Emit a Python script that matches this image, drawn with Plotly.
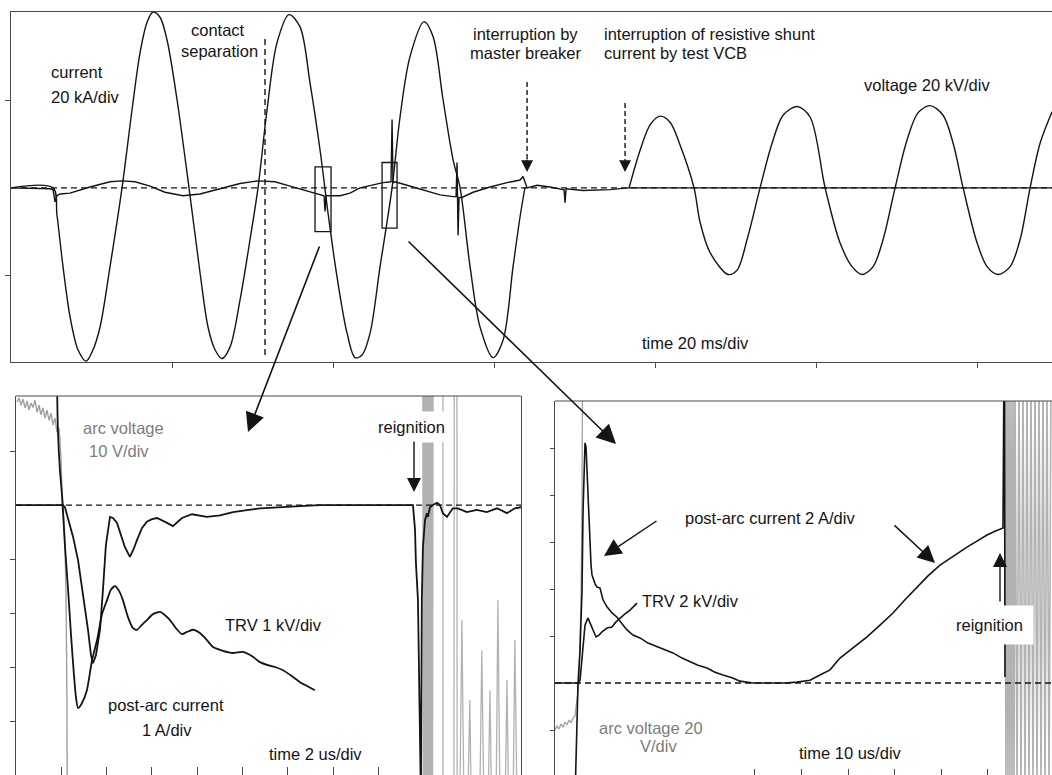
import plotly.graph_objects as go

W, H = 1052, 775
FONT = "Liberation Sans, Arial, sans-serif"
INK = "#141414"
GREY_TEXT = "#7c7c7c"
GREY_TRACE = "rgb(160,160,160)"
GREY_BAND = "rgb(178,178,178)"

# ---------------- upper oscillogram (time in ms, amplitude in divisions) ----------------
t_current_ms = [0, 5.22, 5.71, 6.46, 7.33, 8.32, 9.32, 10.19, 11.06, 12.30,
                13.79, 15.03, 16.02, 16.89, 17.64, 18.51, 19.38, 20.62, 22.11, 23.48,
                24.47, 25.34, 26.21, 27.20, 28.45, 29.69, 30.68, 31.80, 33.04, 34.53,
                35.90, 37.14, 38.39, 39.38, 40.50, 41.74, 42.73, 43.60, 44.60, 45.84,
                47.33, 48.32, 49.56, 51.30, 52.42, 53.66, 54.91, 55.78, 57.02, 58.26,
                59.87, 61.12, 62.36, 63.23, 63.85]
current_div = [0, 0, -0.31, -0.90, -1.47, -1.85, -1.98, -1.85, -1.59, -0.90,
               0, 0.89, 1.54, 1.89, 2.01, 1.95, 1.69, 1.01, 0, -0.97,
               -1.59, -1.85, -1.95, -1.82, -1.28, -0.59, 0, 0.89, 1.66, 1.98,
               1.84, 1.20, 0.43, -0.29, -1.02, -1.66, -1.94, -1.91, -1.66, -0.90,
               0, 0.81, 1.50, 1.90, 1.73, 1.01, 0.32, 0, -0.90, -1.59,
               -1.94, -1.74, -0.90, -0.33, 0.01]

t_aux_ms = [0, 4.84, 5.22, 5.47, 5.71, 6.09, 7.33, 9.81, 12.30, 13.79,
            15.40, 17.27, 19.13, 21.37, 23.48, 25.96, 28.45, 30.68, 32.79, 34.66,
            36.52, 38.39, 38.88, 39.01, 39.13, 40.87, 42.11, 43.35, 44.60, 46.21,
            47.20, 47.33, 47.45, 47.70, 49.19, 51.18, 53.29, 54.91, 55.28, 55.40,
            55.53, 55.65, 56.02, 57.39, 59.50, 61.61, 63.23, 63.60, 64.10, 65.34,
            66.96, 68.57, 68.69, 68.82, 68.94, 71.05, 74.41, 76.64, 129.3]
aux_div = [0, -0.01, -0.02, -0.16, -0.09, -0.07, -0.06, 0.01, 0.07, 0.08,
           0.07, 0.02, -0.05, -0.09, -0.07, -0.01, 0.05, 0.08, 0.07, 0.02,
           -0.03, -0.08, -0.09, -0.27, -0.09, -0.09, -0.06, 0, 0.03, 0.06,
           0.07, 0.78, 0.06, 0.07, 0.03, -0.02, -0.08, -0.10, -0.10, 0.29,
           -0.54, -0.11, -0.11, -0.05, 0.01, 0.06, 0.09, 0.13, 0, 0.03,
           0.01, -0.02, -0.02, -0.17, -0.01, -0.03, -0.02, 0, 0]

t_voltage_ms = [76.77, 78.14, 79.38, 80.62, 81.86, 83.10, 84.84, 85.58, 86.83, 89.07,
                90.19, 91.43, 93.04, 94.53, 95.90, 97.64, 99.25, 101.12, 102.98, 104.47,
                105.71, 107.08, 108.32, 109.81, 111.30, 112.67, 114.16, 115.77, 117.02, 118.26,
                120.00, 121.24, 122.61, 124.10, 125.34, 126.58, 127.82, 129.31]
voltage_div = [0, 0.43, 0.72, 0.82, 0.75, 0.49, 0, -0.39, -0.74, -0.99,
               -0.94, -0.59, 0, 0.51, 0.83, 0.93, 0.81, 0, -0.63, -0.90,
               -0.99, -0.90, -0.59, 0, 0.55, 0.86, 0.94, 0.83, 0.51, 0,
               -0.63, -0.90, -0.99, -0.90, -0.59, 0, 0.51, 0.87]

contact_separation_ms = 31.55
master_interrupt_ms = 64.10
vcb_interrupt_ms = 76.27
zoom_windows_ms = [(37.76, 39.75), (46.09, 47.95)]
zoom_windows_div = [(-0.50, 0.24), (-0.46, 0.29)]
top_time_ticks = [20, 40, 60, 80, 100, 120]

# ---------------- lower left: 2 us/div (time in us, amplitude in divisions) ----------------
bl_current = [(1.81, 2.31), (1.85, 1.39), (1.94, 0.65), (2.03, 0.19), (2.16, -0.74),
              (2.30, -1.57), (2.43, -2.41), (2.56, -3.15), (2.65, -3.57), (2.74, -3.76),
              (2.91, -3.67), (3.13, -3.43), (3.36, -2.87), (3.58, -2.50), (3.80, -2.02),
              (4.02, -1.76), (4.19, -1.57), (4.37, -1.50), (4.55, -1.59), (4.72, -1.76),
              (4.94, -2.07), (5.17, -2.28), (5.34, -2.31), (5.56, -2.22), (5.78, -2.13),
              (6.05, -2.02), (6.36, -1.98), (6.58, -2.04), (6.80, -2.13), (7.06, -2.28),
              (7.33, -2.39), (7.55, -2.35), (7.81, -2.31), (8.12, -2.37), (8.43, -2.50),
              (8.70, -2.63), (9.14, -2.70), (9.58, -2.74), (10.02, -2.72), (10.46, -2.81),
              (10.77, -2.91), (11.08, -2.96), (11.44, -3.00), (11.79, -3.06), (12.19, -3.17),
              (12.54, -3.28), (12.85, -3.35), (13.20, -3.43)]
bl_trv = [(0, 0), (2.08, 0), (2.16, -0.04), (2.52, -0.59), (2.74, -1.02), (2.96, -1.63),
          (3.18, -2.31), (3.31, -2.78), (3.40, -2.93), (3.53, -2.78), (3.71, -2.31),
          (3.84, -1.57), (3.97, -0.74), (4.15, -0.22), (4.28, -0.24), (4.46, -0.33),
          (4.64, -0.56), (4.81, -0.78), (5.03, -0.96), (5.21, -0.80), (5.34, -0.65),
          (5.56, -0.43), (5.78, -0.31), (6.00, -0.26), (6.23, -0.24), (6.45, -0.28),
          (6.67, -0.33), (6.93, -0.39), (7.15, -0.30), (7.33, -0.24), (7.77, -0.17),
          (8.43, -0.22), (9.01, -0.19), (9.58, -0.13), (10.77, -0.06), (11.96, -0.04),
          (12.54, -0.02), (13.42, 0), (17.53, 0), (17.62, -0.46), (17.66, -1.07),
          (17.75, -1.76), (17.79, -3.61), (17.84, -5.46), (17.88, -5.46), (17.92, -1.76),
          (17.97, -0.78), (18.06, -0.28), (18.15, -0.15), (18.19, -0.22), (18.28, -0.04),
          (18.41, 0), (18.59, 0.04), (18.72, 0), (18.85, -0.15), (19.03, -0.22),
          (19.16, -0.13), (19.29, -0.06), (19.51, -0.06), (19.91, -0.13), (20.35, -0.09),
          (20.79, -0.13), (21.24, -0.06), (21.68, -0.15), (22.03, -0.06), (22.30, -0.04)]
bl_arc_before = [(0.04, 1.91), (0.13, 1.98), (0.22, 1.85), (0.31, 1.96), (0.40, 1.80),
                 (0.49, 1.93), (0.57, 1.76), (0.66, 1.89), (0.75, 1.81), (0.84, 1.94),
                 (0.93, 1.72), (1.02, 1.85), (1.10, 1.67), (1.19, 1.80), (1.28, 1.61),
                 (1.37, 1.76), (1.46, 1.57), (1.55, 1.70), (1.63, 1.48), (1.72, 1.61),
                 (1.81, 1.35), (1.90, 1.43), (1.94, 1.20), (1.99, 0.83), (2.03, 0.28),
                 (2.08, 0), (2.16, -0.65), (2.21, -1.76), (2.25, -3.61), (2.26, -5.46)]
# arc voltage swinging rail to rail after reignition (dense burst, then single swings)
bl_arc_burst = [(17.97, 2.3), (17.99, -5.5), (18.01, 2.3), (18.04, -5.5), (18.06, 2.3),
                (18.08, -5.5), (18.10, 2.3), (18.12, -5.5), (18.15, 2.3), (18.17, -5.5),
                (18.19, 2.3), (18.21, -5.5), (18.23, 2.3), (18.26, -5.5), (18.28, 2.3),
                (18.30, -5.5), (18.32, 2.3), (18.34, -5.5), (18.37, 2.3), (18.39, -5.5),
                (18.41, 2.3)]
bl_arc_after = [(18.85, 2.3), (18.86, -5.5), (19.34, -5.5), (19.35, 2.3),
                (19.47, 2.3), (19.48, -5.5), (19.60, -5.5), (19.69, -2.13), (19.78, -5.5),
                (19.95, -5.5), (20.04, -3.61), (20.10, -5.5), (20.48, -5.5), (20.57, -2.69),
                (20.66, -5.5), (20.85, -5.5), (20.93, -3.43), (21.00, -5.5), (21.20, -5.5),
                (21.28, -1.76), (21.37, -5.5), (21.60, -5.5), (21.68, -3.24), (21.75, -5.5),
                (21.95, -5.5), (22.03, -2.50), (22.12, -5.5)]
bl_time_ticks = [2, 4, 6, 8, 10, 12, 14, 16]
bl_amp_ticks = [-4, -3, -2, -1, 1]

# ---------------- lower right: 10 us/div (time in us, amplitude in divisions) ----------------
br_current = [(1.39, -2.49), (1.61, -1.64), (2.04, 0), (2.47, 0.70), (2.90, 1.98),
              (3.11, 3.62), (3.33, 4.68), (3.54, 5.11), (3.76, 5.02), (4.18, 3.89),
              (4.61, 3.04), (4.83, 2.51), (5.04, 2.30), (5.69, 2.11), (6.12, 2.04),
              (6.76, 2.02), (7.40, 1.77), (8.26, 1.62), (9.33, 1.49), (10.41, 1.40),
              (11.48, 1.26), (12.55, 1.13), (13.84, 1.02), (15.34, 0.96), (17.06, 0.85),
              (18.99, 0.77), (20.71, 0.70), (22.42, 0.64), (24.36, 0.53), (26.07, 0.45),
              (27.79, 0.38), (29.72, 0.32), (31.44, 0.23), (33.15, 0.17), (35.09, 0.11),
              (36.80, 0.04), (39.59, 0), (43.88, 0), (46.46, 0), (49.03, 0.02),
              (51.82, 0.06), (53.97, 0.17), (56.12, 0.28), (58.26, 0.53), (61.05, 0.74),
              (64.06, 0.98), (66.85, 1.23), (69.64, 1.49), (72.21, 1.77), (74.79, 2.04),
              (77.15, 2.28), (79.72, 2.51), (82.51, 2.70), (85.52, 2.89), (87.66, 3.02),
              (89.81, 3.15), (91.52, 3.23), (93.24, 3.30), (93.46, 6.87), (93.56, 6.87),
              (93.67, 0.13)]
br_trv = [(-2.90, 0), (2.04, 0), (2.47, 0.06), (3.11, 0.77), (3.54, 1.23), (3.97, 1.34),
          (4.18, 1.38), (4.61, 1.28), (5.04, 1.17), (5.90, 0.98), (6.55, 1.02), (7.19, 1.09),
          (8.26, 1.17), (9.33, 1.19), (10.19, 1.30), (11.05, 1.38), (12.12, 1.47),
          (13.20, 1.55), (14.70, 1.70)]
br_arc_before = [(-2.90, -1.00), (-2.47, -0.91), (-2.04, -0.98), (-1.61, -0.87), (-1.18, -0.94),
                 (-0.75, -0.83), (-0.32, -0.89), (0.11, -0.79), (0.54, -0.85), (0.97, -0.74),
                 (1.39, -0.70), (1.82, -0.36), (2.25, 0), (2.68, 1.77), (2.90, 3.89),
                 (3.00, 6.45)]
br_arc_after = [(93.67, 6.5), (93.88, -2.3), (94.10, 6.5), (94.31, -2.3), (94.53, 6.5),
                (94.74, -2.3), (94.96, 6.5), (95.17, -2.3), (95.39, 6.5), (95.60, -2.3),
                (95.82, 6.5), (96.25, -2.3), (96.67, 6.5), (97.10, -2.3), (97.53, 6.5),
                (97.96, -2.3), (98.39, 6.5), (98.82, -2.3), (99.25, 6.5), (99.68, -2.3),
                (100.11, 6.5), (100.54, -2.3), (100.97, 6.5), (101.40, -2.3), (101.83, 6.5),
                (102.26, -2.3), (102.69, 6.5), (103.12, -2.3), (103.55, 6.5)]
br_time_ticks = [40, 50, 60, 70, 80, 90]
br_amp_ticks = [-1, 1, 2, 3, 4, 5]


def cols(pairs):
    return [p[0] for p in pairs], [p[1] for p in pairs]


def paper(xpx, ypx):
    return xpx / W, 1 - ypx / H


fig = go.Figure()


def line(x, y, ax, color=INK, width=1.5, shape="linear", smoothing=1.0):
    fig.add_trace(go.Scatter(
        x=x, y=y, mode="lines", xaxis="x" + ax, yaxis="y" + ax,
        line=dict(color=color, width=width, shape=shape,
                  smoothing=smoothing if shape == "spline" else None),
        hoverinfo="skip", showlegend=False))


# upper panel
line(t_aux_ms, aux_div, "", width=1.4)
line(t_current_ms, current_div, "", width=1.4, shape="spline", smoothing=0.9)
line(t_voltage_ms, voltage_div, "", width=1.4, shape="spline", smoothing=0.9)

# lower left panel
line(*cols(bl_arc_before), "2", color=GREY_TRACE, width=1.4)
line(*cols(bl_arc_burst), "2", color=GREY_BAND, width=1.6)
line(*cols(bl_arc_after), "2", color=GREY_BAND, width=1.3)
line(*cols(bl_trv), "2", width=1.8)
line(*cols(bl_current), "2", width=1.8, shape="spline", smoothing=0.6)

# lower right panel
line(*cols(br_arc_before), "3", color=GREY_TRACE, width=1.3)
line(*cols(br_arc_after), "3", color=GREY_BAND, width=1.6)
line(*cols(br_trv), "3", width=1.6)
line(*cols(br_current), "3", width=1.6)

axis_common = dict(showgrid=False, zeroline=False, showticklabels=False,
                   linecolor="#4a4a4a", linewidth=1.2, tickcolor="#4a4a4a", tickwidth=1.2)

fig.update_layout(
    width=W, height=H, margin=dict(l=0, r=0, t=0, b=0, pad=0),
    paper_bgcolor="white", plot_bgcolor="white", showlegend=False,
    xaxis=dict(domain=[11 / W, 1], range=[0, 129.3], anchor="y", tickvals=top_time_ticks,
               showline=True, mirror=True, ticks="outside", ticklen=5, **axis_common),
    yaxis=dict(domain=[1 - 362 / H, 1 - 12 / H], range=[-1.99, 2.01], anchor="x",
               tickvals=[-1, 1], showline=True, ticks="outside", ticklen=5, **axis_common),
    xaxis2=dict(domain=[16 / W, 521 / W], range=[0, 22.30], anchor="y2", tickvals=bl_time_ticks,
                showline=False, ticks="inside", ticklen=8, **axis_common),
    yaxis2=dict(domain=[0, 1 - 396 / H], range=[-5.0, 2.02], anchor="x2", tickvals=bl_amp_ticks,
                showline=True, mirror=True, ticks="outside", ticklen=5, **axis_common),
    xaxis3=dict(domain=[555 / W, 1], range=[-2.90, 103.76], anchor="y3", tickvals=br_time_ticks,
                showline=False, ticks="inside", ticklen=6, **axis_common),
    yaxis3=dict(domain=[0, 1 - 401 / H], range=[-1.957, 6.0], anchor="x3", tickvals=br_amp_ticks,
                showline=True, ticks="outside", ticklen=4, **axis_common),
)

DASH = "6px,4px"
# zero reference lines
for xr, yr in (("x domain", "y"), ("x2 domain", "y2"), ("x3 domain", "y3")):
    fig.add_shape(type="line", xref=xr, yref=yr, x0=0, x1=1, y0=0, y1=0,
                  line=dict(color=INK, width=1.3, dash=DASH))
# top borders of the lower panels
for xr, yr in (("x2 domain", "y2 domain"), ("x3 domain", "y3 domain")):
    fig.add_shape(type="line", xref=xr, yref=yr, x0=0, x1=1, y0=1, y1=1,
                  line=dict(color="#4a4a4a", width=1.2))
# contact separation marker
fig.add_shape(type="line", xref="x", yref="y", x0=contact_separation_ms, x1=contact_separation_ms,
              y0=-1.91, y1=1.73, line=dict(color=INK, width=1.4, dash=DASH))
# expanded windows
for (t0, t1), (v0, v1) in zip(zoom_windows_ms, zoom_windows_div):
    fig.add_shape(type="rect", xref="x", yref="y", x0=t0, x1=t1, y0=v0, y1=v1,
                  line=dict(color=INK, width=1.3))
# dashed interruption arrows
for t_ms, top in ((master_interrupt_ms, 1.21), (vcb_interrupt_ms, 0.97)):
    fig.add_shape(type="line", xref="x", yref="y", x0=t_ms, x1=t_ms, y0=top, y1=0.32,
                  line=dict(color=INK, width=1.4, dash="5px,3px"))
    fig.add_annotation(x=t_ms, y=0.18, xref="x", yref="y", ax=0, ay=-14, text="",
                       showarrow=True, arrowhead=2, arrowsize=1.7, arrowwidth=1.4,
                       arrowcolor=INK)


def label(text, xpx, ypx, anchor="left", color=INK, **kw):
    x, y = paper(xpx, ypx)
    fig.add_annotation(text=text, x=x, y=y, xref="paper", yref="paper",
                       xanchor=anchor, yanchor="middle", showarrow=False,
                       font=dict(family=FONT, size=16.5, color=color), **kw)


def arrow(tip_x, tip_y, dx, dy, width=1.6, size=2.2):
    x, y = paper(tip_x, tip_y)
    fig.add_annotation(x=x, y=y, xref="paper", yref="paper", ax=dx, ay=dy, text="",
                       showarrow=True, arrowhead=2, arrowsize=size, arrowwidth=width,
                       arrowcolor=INK)


# upper panel labels
label("current", 49, 72)
label("20 kA/div", 49, 97)
label("contact", 218, 30, anchor="center")
label("separation", 219, 51, anchor="center")
label("interruption by", 525, 34, anchor="center")
label("master breaker", 525, 53, anchor="center")
label("interruption of resistive shunt", 602, 34)
label("current by test VCB", 602, 53)
label("voltage 20 kV/div", 862, 85)
label("time 20 ms/div", 640, 343)

# lower left labels
label("arc voltage", 81, 428, color=GREY_TEXT)
label("10 V/div", 87, 451, color=GREY_TEXT)
label("TRV 1 kV/div", 223, 625)
label("post-arc current", 166, 705, anchor="center")
label("1 A/div", 167, 730, anchor="center")
label("time 2 us/div", 267, 754)
label("reignition", 411, 427, anchor="center", bgcolor="white", borderpad=6)
arrow(414, 492, 0, -52, width=1.4, size=2.0)

# lower right labels
label("post-arc current 2 A/div", 683, 518)
label("TRV 2 kV/div", 640, 601)
label("arc voltage 20", 597, 728, color=GREY_TEXT)
label("V/div", 638, 746, color=GREY_TEXT)
label("time 10 us/div", 797, 753)
label("reignition", 989, 625, anchor="center", bgcolor="white", borderpad=10)
arrow(1000, 553, 0, 50, width=1.4, size=2.0)
arrow(604, 556, 54, -36, width=1.5, size=2.3)
arrow(935, 563, -42, -39, width=1.5, size=2.3)

# arrows from the marked windows to the expanded views
arrow(248, 432, 72, -187, width=1.6, size=2.4)
arrow(616, 444, -209, -204, width=1.6, size=2.4)

fig.write_html("out.html")
